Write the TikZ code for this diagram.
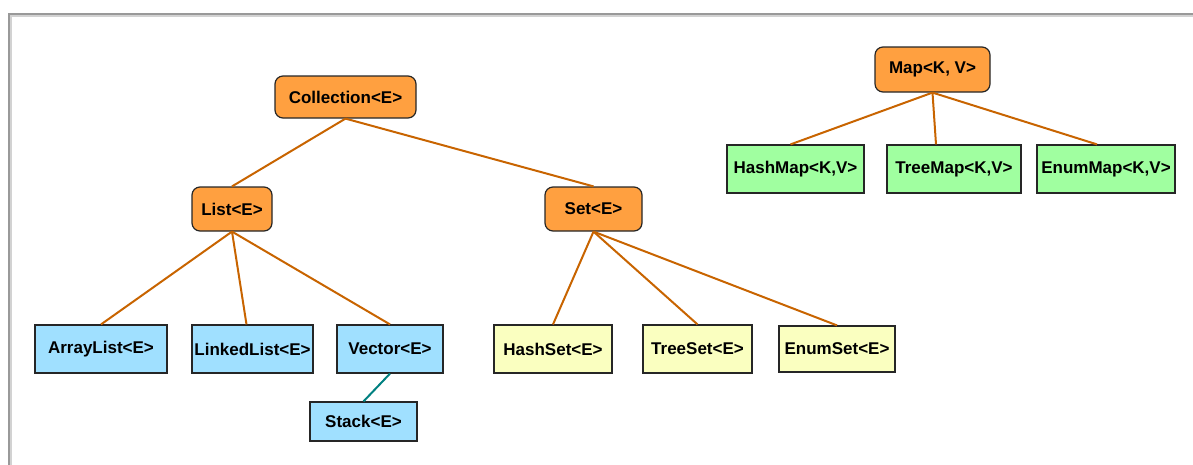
\documentclass[tikz,border=0pt]{standalone}
\usepackage{fontspec}
\setmainfont{Liberation Sans}
\definecolor{ifc}{RGB}{255,160,64}
\definecolor{listc}{RGB}{160,224,255}
\definecolor{setc}{RGB}{250,255,192}
\definecolor{mapc}{RGB}{160,255,160}
\definecolor{linkc}{RGB}{200,100,0}
\definecolor{subc}{RGB}{0,128,128}
\begin{document}
\begin{tikzpicture}[x=1pt,y=-1pt,
  box/.style={draw=black!85,line width=1.2pt,inner sep=0pt,
    font=\fontsize{17}{20}\selectfont\bfseries},
  iface/.style={box,fill=ifc,rounded corners=8pt},
  cls/.style={box},
  link/.style={draw=linkc,line width=2pt}]
\useasboundingbox (0,0) rectangle (1193,464);
% frame
\draw[gray!80,line width=1.2pt] (9,480) |- (1210,14);
\draw[gray!35,line width=1.2pt] (11,480) |- (1210,16);
% interfaces
\node[iface,minimum width=141pt,minimum height=42pt] (coll) at (345.5,97) {Collection<E>};
\node[iface,minimum width=80pt,minimum height=44pt] (list) at (232,209) {List<E>};
\node[iface,minimum width=97pt,minimum height=44pt] (set) at (593.5,209) {Set<E>};
\node[iface,minimum width=115pt,minimum height=45pt] (map) at (932.5,69.5) {Map<K, V>};
% lists
\node[cls,fill=listc,minimum width=132pt,minimum height=48pt] (alist) at (101,349) {ArrayList<E>};
\node[cls,fill=listc,minimum width=121pt,minimum height=48pt] (llist) at (252.5,349) {LinkedList<E>};
\node[cls,fill=listc,minimum width=106pt,minimum height=48pt] (vec) at (390,349) {Vector<E>};
\node[cls,fill=listc,minimum width=107pt,minimum height=39pt] (stack) at (363.5,421.5) {Stack<E>};
% sets
\node[cls,fill=setc,minimum width=118pt,minimum height=48pt] (hset) at (553,349) {HashSet<E>};
\node[cls,fill=setc,minimum width=109pt,minimum height=48pt] (tset) at (697.5,349) {TreeSet<E>};
\node[cls,fill=setc,minimum width=116pt,minimum height=46pt] (eset) at (837,349) {EnumSet<E>};
% maps
\node[cls,fill=mapc,minimum width=137pt,minimum height=48pt] (hmap) at (795.5,169) {HashMap<K,V>};
\node[cls,fill=mapc,minimum width=134pt,minimum height=48pt] (tmap) at (954,169) {TreeMap<K,V>};
\node[cls,fill=mapc,minimum width=138pt,minimum height=48pt] (emap) at (1106,169) {EnumMap<K,V>};
% links
\draw[link] (coll.south) -- (list.north);
\draw[link] (coll.south) -- (set.north);
\draw[link] (list.south) -- (alist.north);
\draw[link] (list.south) -- ([xshift=-6pt]llist.north);
\draw[link] (list.south) -- (vec.north);
\draw[link] (set.south) -- (hset.north);
\draw[link] (set.south) -- (tset.north);
\draw[link] (set.south) -- (eset.north);
\draw[link] (map.south) -- ([xshift=-5pt]hmap.north);
\draw[link] (map.south) -- ([xshift=-18pt]tmap.north);
\draw[link] (map.south) -- ([xshift=-9pt]emap.north);
\draw[draw=subc,line width=2pt] (vec.south) -- (stack.north);
\end{tikzpicture}
\end{document}
